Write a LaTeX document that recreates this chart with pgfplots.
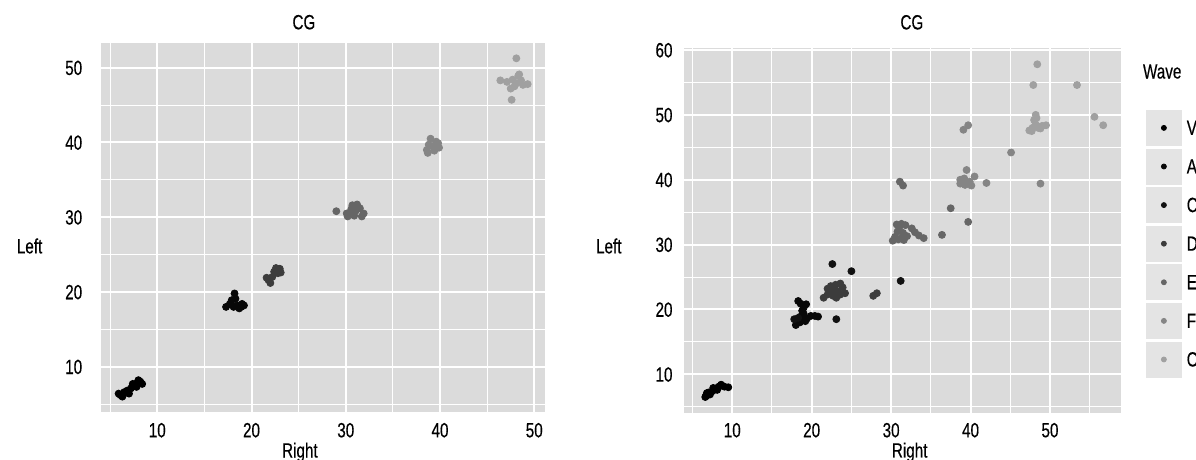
\documentclass[border=0pt]{standalone}
\usepackage{pgfplots}
\pgfplotsset{compat=1.18}
\usepackage{fontspec}
\setmainfont[FakeStretch=0.74,FakeBold=0.35]{Liberation Sans}
\definecolor{panelbg}{HTML}{DBDBDB}
\definecolor{keybg}{HTML}{E4E4E4}
\definecolor{cV}{HTML}{000000}
\definecolor{cA}{HTML}{080808}
\definecolor{cC}{HTML}{111111}
\definecolor{cD}{HTML}{3C3C3C}
\definecolor{cE}{HTML}{666666}
\definecolor{cF}{HTML}{858585}
\definecolor{cO}{HTML}{A0A0A0}
\pgfplotsset{
  ggbase/.style={
    scale only axis,
    axis background/.style={fill=panelbg},
    axis line style={draw=none},
    major tick length=0pt, minor tick length=0pt,
    grid=both,
    major grid style={white, line width=1bp},
    minor grid style={white, line width=0.5bp},
    /pgf/number format/assume math mode=true,
    tick label style={inner sep=0pt, text=black},
    xticklabel style={anchor=base},
    yticklabel style={anchor=base east},
  },
  pt/.style={only marks, mark=*, mark size=1.75bp, mark options={draw=none, fill=#1}, color=#1},
}
\begin{document}
\fontsize{10.3bp}{12bp}\selectfont
\begin{tikzpicture}
\path[use as bounding box] (0bp,0bp) rectangle (598bp,-230bp);
% ---------------- left panel ----------------
\begin{axis}[ggbase,
  at={(50.5bp,-21.35bp)}, anchor=north west,
  width=222bp, height=184.8bp,
  xmin=4.03, xmax=51.14, ymin=3.9, ymax=53.34,
  xtick={10,20,30,40,50}, minor xtick={5,15,25,35,45},
  ytick={10,20,30,40,50}, minor ytick={5,15,25,35,45},
  title={CG},
  every axis title/.style={at={(0.457,1)}, anchor=base, yshift=6.7bp, inner sep=0pt},
  xticklabel style={yshift=-12.5bp},
  yticklabel style={xshift=-9.2bp, yshift=-3.65bp},
  xlabel={Right},
  every axis x label/.style={at={(rel axis cs:0.448,0)}, anchor=base, yshift=-22.6bp, inner sep=0pt},
  ylabel={Left},
  every axis y label/.style={at={(rel axis cs:0,0.45)}, anchor=east, xshift=-29.15bp, inner sep=0pt},
]
\addplot[pt=cV] coordinates {(6.1,6.2) (6.5,6.6) (7.2,7.1) (7.6,7.5) (8.0,8.2) (8.4,7.7) (7.0,6.4) (7.4,7.7) (7.8,7.3) (5.9,6.4) (6.3,6.0) (6.8,6.8) (8.2,8.0) (7.9,7.9)};
\addplot[pt=cA] coordinates {(17.3,18.0) (18.2,19.8) (17.9,18.9) (18.5,18.2) (19.0,18.4) (18.7,17.8) (17.7,18.4) (18.3,19.1) (18.1,18.0) (18.9,18.0) (19.2,18.2)};
\addplot[pt=cD] coordinates {(21.8,21.6) (22.4,22.7) (23.0,23.1) (22.2,22.0) (22.8,22.5) (22.0,21.2) (22.6,23.2) (23.1,22.6) (21.6,21.9)};
\addplot[pt=cE] coordinates {(29.0,30.8) (30.7,31.6) (30.1,30.5) (31.1,30.9) (31.9,30.5) (31.5,31.2) (30.5,30.7) (30.9,30.2) (31.7,30.1) (30.2,30.1) (31.2,31.7) (30.6,31.1)};
\addplot[pt=cF] coordinates {(39.0,40.5) (39.6,40.1) (38.6,39.0) (39.2,39.5) (39.8,39.9) (38.8,39.7) (39.4,38.9) (38.7,38.6) (39.9,39.3)};
\addplot[pt=cO] coordinates {(48.1,51.25) (47.6,45.7) (46.4,48.3) (47.1,48.1) (47.7,48.4) (48.3,48.9) (47.9,47.5) (48.8,47.7) (49.3,47.8) (48.1,47.9) (47.5,47.2) (48.4,49.1) (48.6,48.3)};
\end{axis}
% ---------------- right panel ----------------
\begin{axis}[ggbase,
  at={(341.75bp,-24bp)}, anchor=north west,
  width=218.75bp, height=182.65bp,
  xmin=3.86, xmax=58.94, ymin=3.99, ymax=60.31,
  xtick={10,20,30,40,50}, minor xtick={5,15,25,35,45,55},
  ytick={10,20,30,40,50,60}, minor ytick={5,15,25,35,45,55},
  title={CG},
  every axis title/.style={at={(0.522,1)}, anchor=base, yshift=9.3bp, inner sep=0pt},
  xticklabel style={yshift=-12bp},
  yticklabel style={xshift=-5.3bp, yshift=-3.65bp},
  xlabel={Right},
  every axis x label/.style={at={(rel axis cs:0.517,0)}, anchor=base, yshift=-22.1bp, inner sep=0pt},
  ylabel={Left},
  every axis y label/.style={at={(rel axis cs:0,0.458)}, anchor=east, xshift=-30.8bp, inner sep=0pt},
  legend image code/.code={
    \fill[keybg] (0bp,-5.25bp) rectangle (17.5bp,12.25bp);
    \draw[mark size=1.25bp, mark repeat=2, mark phase=2] plot coordinates {(8.75bp,3.5bp) (8.75bp,3.5bp) (8.75bp,3.5bp)};
  },
  legend cell align=left,
  legend style={at={(1.0571,0.8303)}, anchor=north west, draw=none, fill=none,
    inner sep=0pt, outer sep=0pt, row sep=1.4bp, column sep=2.5bp,
    nodes={inner sep=0pt, anchor=base west}},
]
\addplot[pt=cV] coordinates {(6.6,6.5) (6.9,6.8) (7.0,7.2) (7.5,7.4) (7.9,7.8) (8.3,8.1) (8.6,8.4) (9.0,8.1) (9.5,8.0) (7.2,6.9) (8.1,7.6) (6.8,7.1) (7.6,7.9) (6.7,6.7)};
\addplot[pt=cA] coordinates {(18.0,17.6) (18.1,18.3) (18.6,18.9) (19.0,19.3) (19.4,18.6) (19.9,19.0) (20.4,19.0) (20.8,18.9) (18.5,18.0) (19.2,18.2) (18.8,19.8) (19.0,20.3) (18.3,21.3) (18.6,20.9) (19.3,20.8)};
\addplot[pt=cC] coordinates {(23.1,18.5) (22.6,27.0) (25.0,25.9) (31.2,24.4) (17.8,18.5) (18.3,18.7)};
\addplot[pt=cD] coordinates {(21.5,21.8) (22.0,22.3) (22.3,22.6) (22.8,23.0) (22.4,23.6) (23.0,23.8) (23.6,24.0) (23.9,23.4) (24.2,22.5) (23.6,22.3) (23.1,21.8) (22.7,22.1) (23.3,22.8) (22.0,23.2) (27.75,22.1) (28.2,22.5)};
\addplot[pt=cE] coordinates {(30.2,30.6) (30.5,31.2) (30.9,30.8) (31.3,31.0) (31.6,30.7) (30.8,32.0) (31.0,32.6) (31.3,33.2) (30.7,33.1) (31.8,33.0) (31.5,31.8) (32.6,32.5) (33.0,31.9) (33.5,31.4) (34.1,31.0) (32.0,31.3) (31.1,39.7) (31.5,39.1) (36.4,31.5) (37.5,35.6) (39.7,33.5)};
\addplot[pt=cF] coordinates {(39.5,41.5) (40.5,40.5) (38.7,39.4) (39.3,39.2) (39.9,39.7) (38.7,40.0) (39.2,40.2) (40.1,39.1) (42.0,39.5) (39.1,47.7) (39.7,48.4) (45.1,44.2) (48.8,39.4)};
\addplot[pt=cO] coordinates {(48.4,57.8) (47.9,54.6) (53.4,54.6) (55.6,49.7) (56.7,48.4) (47.4,47.6) (47.8,48.0) (48.2,48.5) (48.0,49.2) (48.2,50.0) (48.5,48.0) (49.0,48.3) (49.5,48.4) (48.8,47.9) (47.7,47.5) (48.3,49.5)};
\legend{V,A,C,D,E,F,O}
\end{axis}
\node[anchor=base west, inner sep=0pt] at (571.3bp,-39.25bp) {Wave};
\end{tikzpicture}
\end{document}
